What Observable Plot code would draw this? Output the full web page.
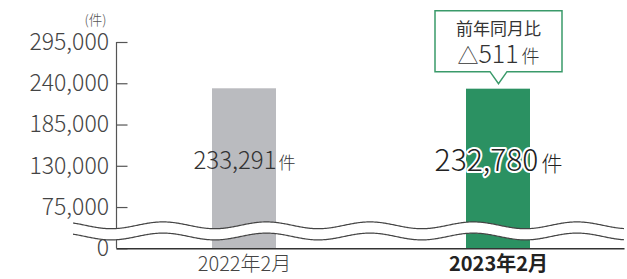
<!DOCTYPE html>
<html><head><meta charset="utf-8">
<script src="https://cdn.jsdelivr.net/npm/d3@7"></script>
<script src="https://cdn.jsdelivr.net/npm/@observablehq/plot@0.6"></script>
<style>
html,body{margin:0;padding:0;background:#fff;}
#chart svg{display:block;}
</style></head><body><div id="chart"></div>
<script>
const months = ["2022年2月", "2023年2月"];
const counts = [233291, 232780];
const barColors = ["#babbbf", "#2b9162"];
const yTickValues = [0, 75000, 130000, 185000, 240000, 295000];
const unitLabel = "(件)";
const unitSuffix = "件";
const calloutTitle = "前年同月比";
const calloutDelta = "△";
const calloutValue = 511;
const axisFloor = 20000; // value at which the broken axis shows "0"
const yMax = 295000;

const bars = months.map((m, i) => ({month: m, value: counts[i], color: barColors[i], current: i === months.length - 1}));
const tickPos = yTickValues.map(v => v === 0 ? axisFloor : v);
const fmt = d3.format(",");

const W = 627, H = 279, mL = 116.5, mR = 2.5, mT = 42, mB = 30.7;
const font = "'Noto Sans CJK JP', 'Noto Sans', sans-serif";
const plotW = W - mL - mR;

const plot = Plot.plot({
  width: W, height: H, marginLeft: mL, marginRight: mR, marginTop: mT, marginBottom: mB,
  style: {fontFamily: font, background: "white", color: "#444", fontSize: "23px", fontWeight: 300, overflow: "visible"},
  x: {domain: months, paddingInner: 0.75, paddingOuter: 0.375, axis: null},
  y: {domain: [axisFloor, yMax], ticks: tickPos, tickFormat: v => v === axisFloor ? "0" : fmt(v), tickSize: 0, tickPadding: 8, label: null},
  marks: [
    Plot.barY(bars, {x: "month", y1: axisFloor, y2: "value", fill: "color"}),
    Plot.ruleY(tickPos, {stroke: "#555", strokeWidth: 1.2, insetRight: plotW - 11}),
    Plot.ruleY([axisFloor], {stroke: "#333", strokeWidth: 1.5}),
    Plot.text(bars.filter(d => !d.current), {x: "month", frameAnchor: "bottom", dy: -80, text: d => fmt(d.value), fontSize: 24, fill: "#333"}),
    Plot.text(bars.filter(d => d.current), {x: "month", frameAnchor: "bottom", dy: -78, text: d => fmt(d.value), fontSize: 30, fill: "#222", stroke: "white", strokeWidth: 4}),
    Plot.text(bars.filter(d => !d.current), {x: "month", frameAnchor: "bottom", dy: 21.7, text: "month", fontSize: 20, fill: "#444"}),
    Plot.text(bars.filter(d => d.current), {x: "month", frameAnchor: "bottom", dy: 21.7, text: "month", fontSize: 20, fontWeight: "bold", fill: "#222"}),
    Plot.text([unitLabel], {frameAnchor: "top-left", textAnchor: "middle", lineAnchor: "middle", dx: -21.5, dy: -21.5, text: d => d, fontSize: 13.5, fill: "#555"})
  ]
});
document.getElementById("chart").appendChild(plot);

const svg = d3.select(plot);
const xs = plot.scale("x"), ys = plot.scale("y");

// unit suffix tspans after the bar value labels
bars.forEach(d => {
  svg.selectAll("text").filter(function() { return this.textContent === fmt(d.value); })
    .append("tspan").attr("font-size", d.current ? 21 : 17).attr("dx", d.current ? 3 : 2).text(unitSuffix);
});

// vertical axis line
const y0 = ys.apply(axisFloor), yTop = ys.apply(yMax);
svg.append("line").attr("x1", mL).attr("x2", mL).attr("y1", yTop).attr("y2", y0)
  .attr("stroke", "#555").attr("stroke-width", 1.2);

// wavy break
const waveStart = 73, waveEnd = 624, period = 103.5, crest0 = 163, amp = 3.4;
const c1 = y0 - 23, c2 = y0 - 11.8;
const wy = (x, c) => c - amp * Math.cos(2 * Math.PI * (x - crest0) / period);
const wxs = d3.range(waveStart, waveEnd + 0.5, 1);
const wTop = wxs.map(x => [x, wy(x, c1)]);
const wBot = wxs.map(x => [x, wy(x, c2)]);
const lineGen = d3.line();
svg.append("path").attr("d", lineGen(wTop.concat(wBot.slice().reverse())) + "Z").attr("fill", "white");
svg.append("path").attr("d", lineGen(wTop)).attr("fill", "none").attr("stroke", "#444").attr("stroke-width", 1.2);
svg.append("path").attr("d", lineGen(wBot)).attr("fill", "none").attr("stroke", "#444").attr("stroke-width", 1.2);

// callout above current bar
const cur = bars.find(d => d.current);
const tipX = xs.apply(cur.month) + xs.bandwidth / 2 + 0.5;
const tipY = ys.apply(cur.value) - 5;
const bw = 127, bh = 61, bxL = tipX - bw / 2, bxR = tipX + bw / 2, byB = tipY - 12, byT = byB - bh, pw = 8.5;
svg.append("path")
  .attr("d", `M${bxL},${byT}H${bxR}V${byB}H${tipX + pw}L${tipX},${tipY}L${tipX - pw},${byB}H${bxL}Z`)
  .attr("fill", "white").attr("stroke", "#3a9a6a").attr("stroke-width", 1.5);
svg.append("text").attr("x", tipX).attr("y", tipY - 49).attr("text-anchor", "middle")
  .attr("font-size", 17).attr("font-weight", 400).attr("fill", "#333").text(calloutTitle);
const t2 = svg.append("text").attr("x", tipX).attr("y", tipY - 21).attr("text-anchor", "middle").attr("fill", "#333");
t2.append("tspan").attr("font-size", 21).text(calloutDelta);
t2.append("tspan").attr("font-size", 25).text(calloutValue);
t2.append("tspan").attr("font-size", 18).attr("dx", 3).text(unitSuffix);
</script></body></html>
